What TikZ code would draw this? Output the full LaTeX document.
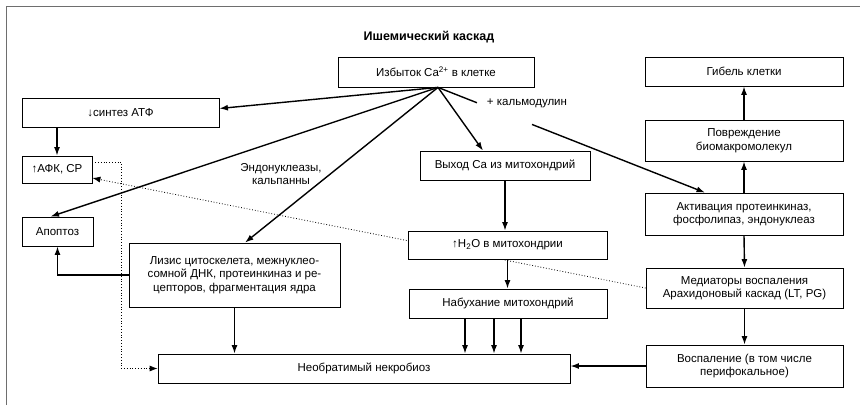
\documentclass[tikz,border=0pt]{standalone}
\usepackage{fontspec}
\setmainfont{Liberation Sans}
\usetikzlibrary{arrows.meta,backgrounds}
\definecolor{Frame}{HTML}{6E6E6E}
\tikzset{
  box/.style={draw,fill=white,line width=0.8pt,align=center,inner sep=1pt,
    font=\fontsize{11.5}{13.5}\selectfont},
  arr/.style={line width=1.4pt,-{Latex[length=8.5pt,width=6pt]}},
  dotline/.style={line width=0.8pt,dotted,-{Latex[length=8pt,width=6pt]}},
  lbl/.style={font=\fontsize{11.5}{13.5}\selectfont,align=center,inner sep=0pt}
}

\begin{document}
\begin{tikzpicture}[x=1pt,y=-1pt]
        \useasboundingbox (0,0) rectangle (861,405);
        \draw[Frame,line width=1pt] (6,405) -- (6,6) -- (860,6);
        \node[font=\bfseries\fontsize{12.5}{14}\selectfont] (title) at (429,37) {Ишемический каскад};
        % upper block
        \node[box,minimum width=196pt,minimum height=30pt] (ca) at (436,72) {Избыток Ca\textsuperscript{2+} в клетке};
        \node[box,minimum width=197pt,minimum height=29pt] (atf) at (120.5,112.5) {↓синтез АТФ};
        \node[box,minimum width=70pt,minimum height=27pt] (afk) at (57,169.5) {↑АФК, СР};
        \node[box,minimum width=71pt,minimum height=29pt] (apo) at (57.5,231.5) {Апоптоз};
        \node[box,minimum width=211pt,minimum height=64pt] (liz) at (234.5,275) {Лизис цитоскелета, межнуклео-\\сомной ДНК, протеинкиназ и ре-\\цепторов, фрагментация ядра};
        \node[box,minimum width=412pt,minimum height=29pt] (nec) at (364,368.5) {Необратимый некробиоз};
        % middle column
        \node[box,minimum width=170pt,minimum height=29pt] (vyh) at (505,165.5) {Выход Ca из митохондрий};
        \node[box,minimum width=199pt,minimum height=28pt] (h2o) at (507.5,245) {↑H\textsubscript{2}O в митохондрии};
        \node[box,minimum width=198pt,minimum height=29pt] (nab) at (508,303.5) {Набухание митохондрий};
        % right column
        \node[box,minimum width=198pt,minimum height=29pt] (gib) at (744,71.5) {Гибель клетки};
        \node[box,minimum width=198pt,minimum height=41pt] (pov) at (744,140.5) {Повреждение\\биомакромолекул};
        \node[box,minimum width=198pt,minimum height=42pt] (act) at (744,214) {Активация протеинкиназ,\\фосфолипаз, эндонуклеаз};
        \node[box,minimum width=197pt,minimum height=40pt] (med) at (744.5,288) {Медиаторы воспаления\\Арахидоновый каскад (LT, PG)};
        \node[box,minimum width=197pt,minimum height=42pt] (vos) at (744.5,366) {Воспаление (в том числе\\перифокальное)};
        % labels
        \node[lbl] (endo) at (281,174) {Эндонуклеазы,\\кальпанны};
        \node[lbl] (calm) at (527,103) {+ кальмодулин};
        % dotted links behind the boxes
        \begin{scope}[on background layer]
          \draw[dotline] (med.west) -- ([yshift=-8.5pt]afk.east);
        \end{scope}
        \draw[dotline] ([yshift=7.5pt]afk.east) -- ++(29,0) |- (nec.west);
        % fan from Ca
        \draw[arr] ([xshift=2pt]ca.south) -- ([yshift=4pt]atf.east);
        \draw[arr] ([xshift=2pt]ca.south) -- ([xshift=-7pt]apo.north);
        \draw[arr] ([xshift=2pt]ca.south) -- ([xshift=10.5pt]liz.north);
        \draw[arr] ([xshift=2pt]ca.south) -- ([xshift=-22pt]vyh.north);
        \path ([xshift=2pt]ca.south) -- coordinate[pos=0.146] (calmA) coordinate[pos=0.352] (calmB) ([xshift=-39pt]act.north);
        \draw[line width=1.4pt] ([xshift=2pt]ca.south) -- (calmA);
        \draw[arr] (calmB) -- ([xshift=-39pt]act.north);
        % straight links
        \draw[arr] (afk.north |- atf.south) -- (afk.north);
        \draw[arr] (liz.west) -| (apo.south);
        \draw[arr] (liz.south) -- (liz.south |- nec.north);
        \draw[arr] (vyh.south) -- (vyh.south |- h2o.north);
        \draw[arr] (h2o.south) -- (h2o.south |- nab.north);
        \foreach \dx in {-43,-14,13}{
          \draw[arr] ([xshift=\dx pt]nab.south) -- ([xshift=\dx pt]nab.south |- nec.north);
        }
        \draw[arr] (vos.west) -- (vos.west -| nec.east);
        \draw[arr] (act.north) -- (pov.south);
        \draw[arr] (pov.north) -- (gib.south);
        \draw[arr] (act.south) -- (med.north);
        \draw[arr] (med.south) -- (vos.north);
      \end{tikzpicture}
\end{document}
